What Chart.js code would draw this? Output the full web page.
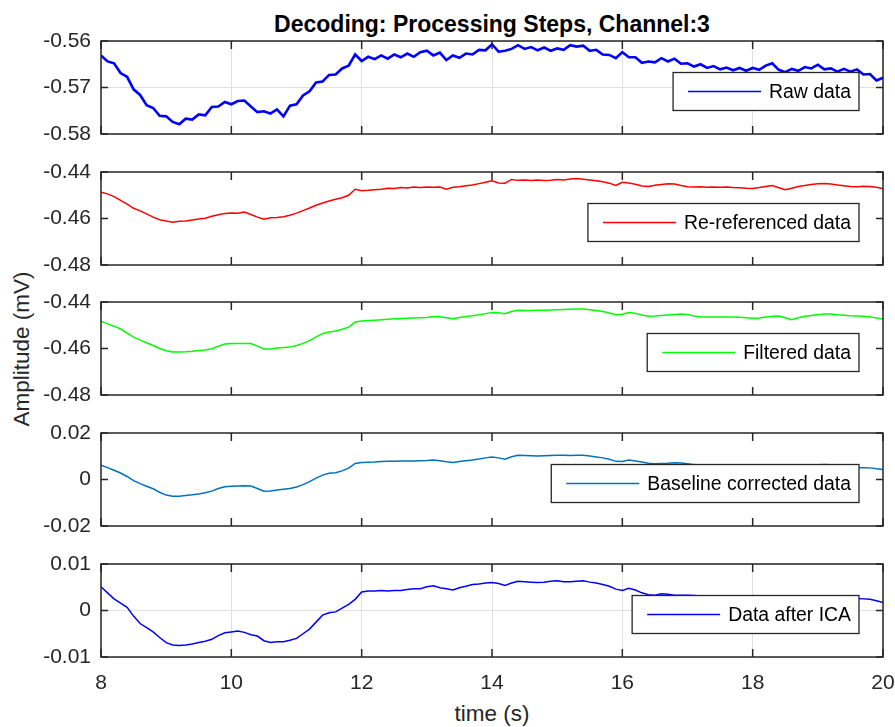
<!DOCTYPE html>
<html>
<head>
<meta charset="utf-8">
<script src="https://cdn.jsdelivr.net/npm/chart.js@4.4.1/dist/chart.umd.min.js"></script>
<style>
  body { margin: 0; background: #fff; }
  #fig { position: relative; width: 895px; height: 727px; background: #fff; font-family: "Liberation Sans", Arial, sans-serif; color: #262626; overflow: hidden; }
  #fig canvas { position: absolute; left: 0; }
  .title { position: absolute; left: 101px; width: 782px; top: 13px; text-align: center; font-weight: bold; font-size: 23px; line-height: 1; color: #000; }
  .xlabel { position: absolute; left: 101px; width: 782px; top: 703px; text-align: center; font-size: 22.5px; line-height: 1; }
  .ylabel { position: absolute; left: 22px; top: 349px; font-size: 22.5px; line-height: 1; white-space: nowrap; transform: translate(-50%, -50%) rotate(-90deg); }
</style>
</head>
<body>
<div id="fig">
  <div class="title">Decoding: Processing Steps, Channel:3</div>
  <div class="ylabel">Amplitude (mV)</div>
  <div class="xlabel">time (s)</div>
</div>
<script>
// samples every 0.1 s from 8 s to 20 s
const T_START = 8;
const T_STEP = 0.1;

const rawData = [
  -0.5631, -0.5644, -0.5648, -0.5669, -0.5677, -0.5704, -0.5716, -0.5738, -0.5744, -0.5761,
  -0.5762, -0.5774, -0.5779, -0.5767, -0.5769, -0.5758, -0.5760, -0.5742, -0.5741, -0.5731,
  -0.5736, -0.5729, -0.5728, -0.5741, -0.5753, -0.5751, -0.5756, -0.5747, -0.5762, -0.5739,
  -0.5736, -0.5717, -0.5708, -0.5689, -0.5687, -0.5673, -0.5672, -0.5659, -0.5653, -0.5629,
  -0.5643, -0.5634, -0.5639, -0.5631, -0.5638, -0.5629, -0.5635, -0.5627, -0.5634, -0.5624,
  -0.5621, -0.5631, -0.5625, -0.5641, -0.5631, -0.5636, -0.5627, -0.5629, -0.5619, -0.5620,
  -0.5607, -0.5623, -0.5621, -0.5617, -0.5609, -0.5617, -0.5613, -0.5620, -0.5614, -0.5621,
  -0.5616, -0.5619, -0.5609, -0.5612, -0.5610, -0.5621, -0.5619, -0.5629, -0.5630, -0.5637,
  -0.5624, -0.5635, -0.5635, -0.5647, -0.5644, -0.5646, -0.5637, -0.5644, -0.5638, -0.5649,
  -0.5648, -0.5655, -0.5650, -0.5658, -0.5654, -0.5661, -0.5657, -0.5663, -0.5658, -0.5664,
  -0.5658, -0.5662, -0.5653, -0.5648, -0.5662, -0.5667, -0.5660, -0.5664, -0.5656, -0.5659,
  -0.5651, -0.5661, -0.5659, -0.5666, -0.5660, -0.5666, -0.5661, -0.5672, -0.5671, -0.5685,
  -0.5679,
];

const rerefData = [
  -0.4487, -0.4494, -0.4506, -0.4522, -0.4538, -0.4556, -0.4567, -0.4580, -0.4594, -0.4605,
  -0.4611, -0.4616, -0.4612, -0.4611, -0.4606, -0.4602, -0.4599, -0.4590, -0.4584, -0.4578,
  -0.4576, -0.4577, -0.4572, -0.4583, -0.4594, -0.4603, -0.4597, -0.4596, -0.4592, -0.4586,
  -0.4577, -0.4566, -0.4555, -0.4543, -0.4533, -0.4525, -0.4517, -0.4511, -0.4500, -0.4474,
  -0.4481, -0.4479, -0.4476, -0.4474, -0.4470, -0.4471, -0.4467, -0.4469, -0.4465, -0.4467,
  -0.4464, -0.4466, -0.4465, -0.4474, -0.4466, -0.4463, -0.4459, -0.4456, -0.4450, -0.4444,
  -0.4438, -0.4447, -0.4448, -0.4432, -0.4436, -0.4434, -0.4437, -0.4434, -0.4437, -0.4435,
  -0.4432, -0.4434, -0.4430, -0.4428, -0.4431, -0.4434, -0.4438, -0.4442, -0.4448, -0.4458,
  -0.4444, -0.4447, -0.4453, -0.4460, -0.4462, -0.4457, -0.4454, -0.4451, -0.4452, -0.4458,
  -0.4463, -0.4465, -0.4463, -0.4466, -0.4464, -0.4466, -0.4465, -0.4467, -0.4468, -0.4470,
  -0.4471, -0.4467, -0.4462, -0.4458, -0.4468, -0.4476, -0.4470, -0.4462, -0.4458, -0.4454,
  -0.4451, -0.4449, -0.4452, -0.4456, -0.4459, -0.4462, -0.4463, -0.4461, -0.4462, -0.4466,
  -0.4472,
];

const filteredData = [
  -0.4483, -0.4494, -0.4504, -0.4516, -0.4534, -0.4551, -0.4564, -0.4575, -0.4587, -0.4600,
  -0.4610, -0.4615, -0.4615, -0.4614, -0.4612, -0.4609, -0.4606, -0.4601, -0.4590, -0.4581,
  -0.4579, -0.4578, -0.4578, -0.4579, -0.4590, -0.4602, -0.4602, -0.4598, -0.4596, -0.4594,
  -0.4587, -0.4578, -0.4566, -0.4550, -0.4536, -0.4529, -0.4525, -0.4517, -0.4508, -0.4486,
  -0.4482, -0.4480, -0.4478, -0.4476, -0.4474, -0.4472, -0.4471, -0.4470, -0.4469, -0.4468,
  -0.4467, -0.4462, -0.4463, -0.4468, -0.4472, -0.4467, -0.4462, -0.4459, -0.4455, -0.4450,
  -0.4445, -0.4446, -0.4450, -0.4441, -0.4436, -0.4437, -0.4437, -0.4436, -0.4435, -0.4434,
  -0.4433, -0.4432, -0.4431, -0.4430, -0.4430, -0.4433, -0.4437, -0.4441, -0.4447, -0.4455,
  -0.4453, -0.4445, -0.4449, -0.4456, -0.4461, -0.4460, -0.4458, -0.4456, -0.4454, -0.4452,
  -0.4454, -0.4460, -0.4464, -0.4464, -0.4464, -0.4464, -0.4464, -0.4465, -0.4466, -0.4468,
  -0.4470, -0.4469, -0.4465, -0.4461, -0.4460, -0.4468, -0.4476, -0.4468, -0.4461, -0.4458,
  -0.4455, -0.4452, -0.4452, -0.4455, -0.4457, -0.4459, -0.4460, -0.4461, -0.4464, -0.4469,
  -0.4473,
];

const baselineData = [
  0.0061, 0.0051, 0.0040, 0.0028, 0.0013, -0.0005, -0.0018, -0.0029, -0.0040, -0.0055,
  -0.0067, -0.0072, -0.0072, -0.0069, -0.0066, -0.0062, -0.0057, -0.0050, -0.0039, -0.0031,
  -0.0029, -0.0028, -0.0027, -0.0028, -0.0039, -0.0050, -0.0049, -0.0045, -0.0042, -0.0039,
  -0.0032, -0.0022, -0.0009, 0.0006, 0.0019, 0.0027, 0.0029, 0.0037, 0.0049, 0.0069,
  0.0073, 0.0074, 0.0075, 0.0077, 0.0078, 0.0079, 0.0080, 0.0080, 0.0080, 0.0081,
  0.0082, 0.0084, 0.0081, 0.0076, 0.0073, 0.0077, 0.0081, 0.0084, 0.0088, 0.0093,
  0.0097, 0.0093, 0.0087, 0.0098, 0.0104, 0.0103, 0.0102, 0.0101, 0.0102, 0.0103,
  0.0104, 0.0104, 0.0103, 0.0104, 0.0104, 0.0101, 0.0097, 0.0093, 0.0087, 0.0078,
  0.0077, 0.0084, 0.0080, 0.0075, 0.0070, 0.0068, 0.0069, 0.0070, 0.0072, 0.0071,
  0.0068, 0.0064, 0.0061, 0.0061, 0.0060, 0.0060, 0.0060, 0.0059, 0.0058, 0.0056,
  0.0055, 0.0056, 0.0059, 0.0062, 0.0061, 0.0054, 0.0049, 0.0055, 0.0060, 0.0062,
  0.0063, 0.0064, 0.0063, 0.0060, 0.0057, 0.0054, 0.0052, 0.0051, 0.0050, 0.0046,
  0.0043,
];

const icaData = [
  0.0051, 0.0038, 0.0025, 0.0016, 0.0007, -0.0012, -0.0028, -0.0037, -0.0046, -0.0058,
  -0.0069, -0.0074, -0.0075, -0.0074, -0.0072, -0.0069, -0.0066, -0.0062, -0.0054, -0.0048,
  -0.0046, -0.0044, -0.0047, -0.0052, -0.0055, -0.0065, -0.0069, -0.0067, -0.0067, -0.0064,
  -0.0060, -0.0050, -0.0040, -0.0025, -0.0010, -0.0005, -0.0003, 0.0005, 0.0013, 0.0024,
  0.0040, 0.0042, 0.0042, 0.0043, 0.0042, 0.0043, 0.0043, 0.0045, 0.0047, 0.0047,
  0.0051, 0.0053, 0.0049, 0.0047, 0.0044, 0.0049, 0.0052, 0.0056, 0.0057, 0.0059,
  0.0060, 0.0058, 0.0054, 0.0059, 0.0063, 0.0062, 0.0061, 0.0060, 0.0061, 0.0063,
  0.0064, 0.0062, 0.0062, 0.0063, 0.0064, 0.0061, 0.0059, 0.0056, 0.0052, 0.0046,
  0.0043, 0.0048, 0.0044, 0.0038, 0.0034, 0.0033, 0.0036, 0.0035, 0.0033, 0.0033,
  0.0033, 0.0032, 0.0031, 0.0030, 0.0029, 0.0029, 0.0028, 0.0028, 0.0028, 0.0027,
  0.0027, 0.0028, 0.0030, 0.0031, 0.0029, 0.0025, 0.0022, 0.0026, 0.0029, 0.0030,
  0.0031, 0.0031, 0.0030, 0.0029, 0.0028, 0.0027, 0.0026, 0.0025, 0.0024, 0.0021,
  0.0017,
];

const stepLabels = ["Raw data", "Re-referenced data", "Filtered data", "Baseline corrected data", "Data after ICA"];

let times = rawData.map((v, i) => T_START + i * T_STEP);
let fig = document.getElementById("fig");
let axisFont = { family: "'Liberation Sans', Arial, sans-serif", size: 21 };

let panels = [
  { values: rawData, color: "#0000ff", width: 2.6, yMin: -0.58, yMax: -0.56, yStep: 0.01, grid: true, top: 41 },
  { values: rerefData, color: "#ff0000", width: 1.5, yMin: -0.48, yMax: -0.44, yStep: 0.02, grid: false, top: 172 },
  { values: filteredData, color: "#00ff00", width: 1.5, yMin: -0.48, yMax: -0.44, yStep: 0.02, grid: false, top: 302 },
  { values: baselineData, color: "#0072bd", width: 1.5, yMin: -0.02, yMax: 0.02, yStep: 0.02, grid: false, top: 433 },
  { values: icaData, color: "#0000ff", width: 1.5, yMin: -0.01, yMax: 0.01, yStep: 0.01, grid: true, top: 564 },
];

// frame around the plot area with inward tick marks
const axesBox = {
  id: "axesBox",
  afterDatasetsDraw(chart) {
    let { ctx, chartArea: a, scales } = chart;
    ctx.save();
    ctx.strokeStyle = "#262626";
    ctx.lineWidth = 1.5;
    ctx.beginPath();
    scales.x.ticks.forEach((t) => {
      let px = scales.x.getPixelForValue(t.value);
      ctx.moveTo(px, a.top);
      ctx.lineTo(px, a.top + 8);
      ctx.moveTo(px, a.bottom);
      ctx.lineTo(px, a.bottom - 8);
    });
    scales.y.ticks.forEach((t) => {
      let py = scales.y.getPixelForValue(t.value);
      ctx.moveTo(a.left, py);
      ctx.lineTo(a.left + 7, py);
      ctx.moveTo(a.right, py);
      ctx.lineTo(a.right - 7, py);
    });
    ctx.stroke();
    ctx.strokeRect(a.left, a.top, a.right - a.left, a.bottom - a.top);
    ctx.restore();
  },
};

// boxed legend at the right side of each panel
const panelLegend = {
  id: "panelLegend",
  afterDraw(chart) {
    let ds = chart.data.datasets[0];
    let { ctx, chartArea: a } = chart;
    ctx.save();
    ctx.font = "19.4px 'Liberation Sans', Arial, sans-serif";
    let textW = ctx.measureText(ds.label).width;
    let w = 15 + 73 + 8 + textW + 8;
    let h = 38;
    let x = a.right - 24 - w;
    let y = (a.top + a.bottom) / 2 + 4 - h / 2;
    ctx.fillStyle = "#fff";
    ctx.fillRect(x, y, w, h);
    ctx.strokeStyle = "#262626";
    ctx.lineWidth = 1.3;
    ctx.strokeRect(x, y, w, h);
    ctx.strokeStyle = ds.borderColor;
    ctx.lineWidth = 1.5;
    ctx.beginPath();
    ctx.moveTo(x + 15, y + h / 2);
    ctx.lineTo(x + 88, y + h / 2);
    ctx.stroke();
    ctx.fillStyle = "#000";
    ctx.textBaseline = "middle";
    ctx.fillText(ds.label, x + 96, y + h / 2 + 1);
    ctx.restore();
  },
};

function formatTick(value) {
  if (Math.abs(value) < 1e-9) return "0";
  return value.toFixed(2);
}

// no extra room for overhanging tick labels, the padding below sets the plot area
function noOverhang(s) {
  s.paddingTop = 0;
  s.paddingBottom = 0;
  s.paddingLeft = 0;
  s.paddingRight = 0;
}

panels.forEach((p, i) => {
  let last = i === panels.length - 1;
  let canvas = document.createElement("canvas");
  canvas.width = 895;
  canvas.height = last ? 145 : 117;
  canvas.style.top = p.top - 12 + "px";
  fig.appendChild(canvas);

  new Chart(canvas, {
    type: "line",
    data: {
      datasets: [
        {
          label: stepLabels[i],
          data: times.map((t, k) => ({ x: t, y: p.values[k] })),
          borderColor: p.color,
          borderWidth: p.width,
          pointRadius: 0,
          tension: 0,
        },
      ],
    },
    options: {
      responsive: false,
      animation: false,
      devicePixelRatio: 1,
      layout: { padding: { top: 12, right: 12, bottom: last ? 0 : 12, left: 0 } },
      plugins: {
        legend: { display: false },
        tooltip: { enabled: false },
      },
      scales: {
        x: {
          type: "linear",
          min: 8,
          max: 20,
          ticks: {
            stepSize: 2,
            display: last,
            padding: 14,
            maxRotation: 0,
            autoSkip: false,
            font: axisFont,
            color: "#262626",
          },
          grid: { display: p.grid, color: "#e0e0e0", drawTicks: false },
          border: { display: false },
          afterFit: (s) => {
            s.height = last ? 40 : 0;
            noOverhang(s);
          },
        },
        y: {
          min: p.yMin,
          max: p.yMax,
          ticks: {
            stepSize: p.yStep,
            padding: 10,
            font: axisFont,
            color: "#262626",
            callback: formatTick,
          },
          grid: { display: p.grid, color: "#e0e0e0", drawTicks: false },
          border: { display: false },
          afterFit: (s) => {
            s.width = 101;
            noOverhang(s);
          },
        },
      },
    },
    plugins: [axesBox, panelLegend],
  });
});
</script>
</body>
</html>
